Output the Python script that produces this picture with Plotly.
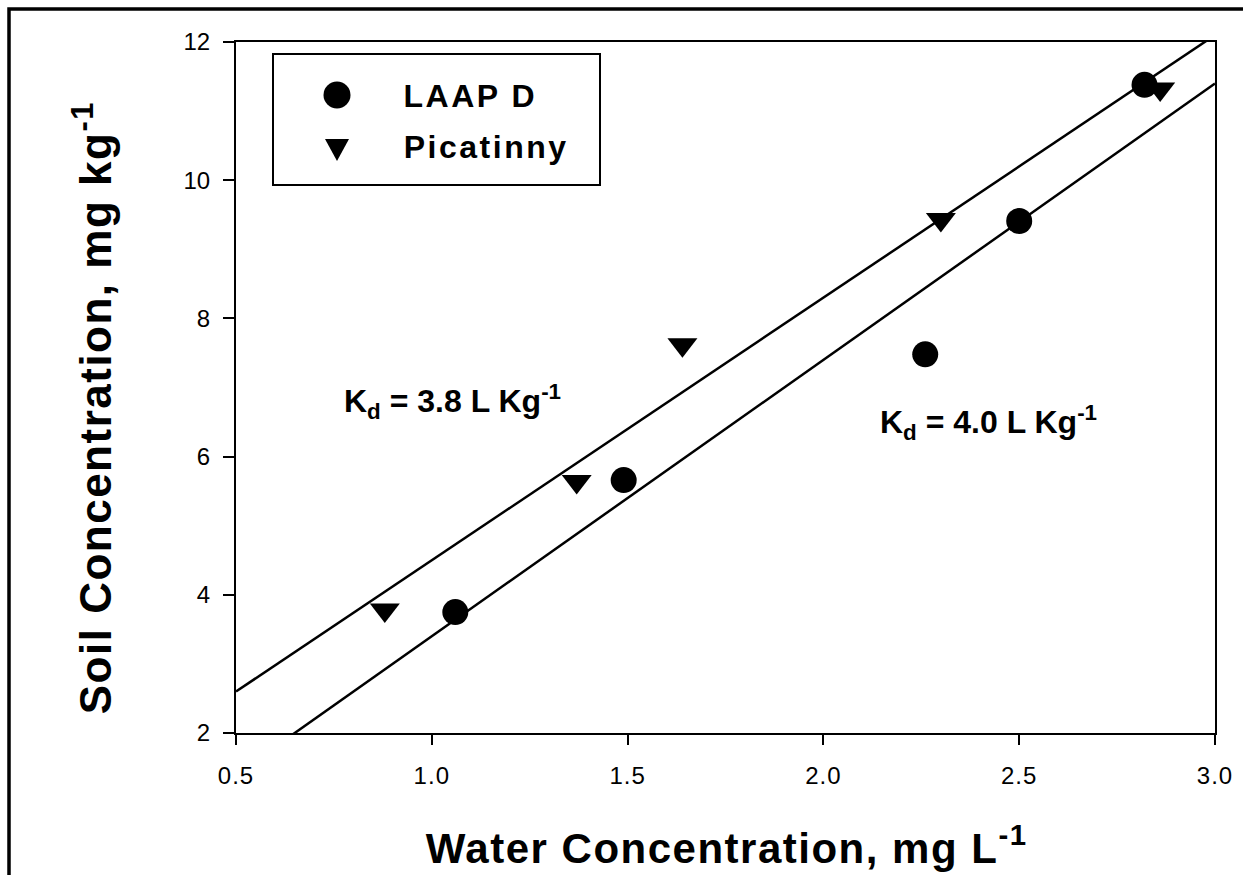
import plotly.graph_objects as go

# Sorption data: water vs soil concentration
laap_water = [1.06, 1.49, 2.26, 2.50, 2.82]
laap_soil = [3.75, 5.66, 7.48, 9.41, 11.38]

pica_water = [0.88, 1.37, 1.64, 2.30, 2.86]
pica_soil = [3.78, 5.64, 7.62, 9.43, 11.32]

# Linear fits (slope = Kd)
pica_kd, pica_icpt = 3.8, 0.70
laap_kd, laap_icpt = 4.0, -0.60

x_range = [0.5, 3.0]
y_range = [2, 12]
x_ticks = [0.5, 1.0, 1.5, 2.0, 2.5, 3.0]
y_ticks = [2, 4, 6, 8, 10, 12]

FONT = "Liberation Sans, Arial, sans-serif"
W, H = 1243, 875
ML, MR, MT, MB = 236, 28, 42, 142
PW, PH = W - ML - MR, H - MT - MB


def px(xp):
    return (xp - ML) / PW


def py(yp):
    return (H - MB - yp) / PH


fig = go.Figure()

fig.add_trace(go.Scatter(
    x=x_range, y=[pica_kd * v + pica_icpt for v in x_range],
    mode="lines", line=dict(color="black", width=2.5),
    showlegend=False, hoverinfo="skip"))
fig.add_trace(go.Scatter(
    x=x_range, y=[laap_kd * v + laap_icpt for v in x_range],
    mode="lines", line=dict(color="black", width=2.5),
    showlegend=False, hoverinfo="skip"))

fig.add_trace(go.Scatter(
    x=laap_water, y=laap_soil, mode="markers", name="LAAP D",
    marker=dict(symbol="circle", size=26, color="black"), showlegend=False))
fig.add_trace(go.Scatter(
    x=pica_water, y=pica_soil, mode="markers", name="Picatinny",
    marker=dict(symbol="triangle-down", size=26, color="black"), showlegend=False))

fig.update_xaxes(
    range=x_range, tickvals=x_ticks, ticktext=[f"{v:.1f}" for v in x_ticks],
    showline=True, linecolor="black", linewidth=2, mirror=True,
    ticks="outside", ticklen=10, tickwidth=2, tickcolor="black",
    ticklabelstandoff=10,
    showgrid=False, zeroline=False,
    tickfont=dict(family=FONT, size=24, color="black"))
fig.update_yaxes(
    range=y_range, tickvals=y_ticks,
    showline=True, linecolor="black", linewidth=2, mirror=True,
    ticks="outside", ticklen=11, tickwidth=2, tickcolor="black",
    ticklabelstandoff=8,
    showgrid=False, zeroline=False,
    tickfont=dict(family=FONT, size=24, color="black"))

annotations = [
    dict(text="<b>Water Concentration, mg L<sup>-1</sup></b>",
         xref="paper", yref="paper", x=px(726), y=py(845),
         xanchor="center", yanchor="middle", showarrow=False,
         font=dict(family=FONT, size=42, color="black")),
    dict(text="<b>Soil Concentration, mg kg<sup>-1</sup></b>",
         xref="paper", yref="paper", x=px(92), y=py(408), textangle=-90,
         xanchor="center", yanchor="middle", showarrow=False,
         font=dict(family=FONT, size=44, color="black")),
    dict(text="<b>K<sub>d</sub> = 3.8 L Kg<sup>-1</sup></b>",
         x=0.77, y=6.8, xanchor="left", yanchor="middle", showarrow=False,
         font=dict(family=FONT, size=32, color="black")),
    dict(text="<b>K<sub>d</sub> = 4.0 L Kg<sup>-1</sup></b>",
         x=2.14, y=6.5, xanchor="left", yanchor="middle", showarrow=False,
         font=dict(family=FONT, size=32, color="black")),
    # legend labels
    dict(text="<b>LAAP D</b>", xref="paper", yref="paper",
         x=px(470), y=py(96), xanchor="center", yanchor="middle", showarrow=False,
         font=dict(family=FONT, size=32, color="black")),
    dict(text="<b>Picatinny</b>", xref="paper", yref="paper",
         x=px(486), y=py(147), xanchor="center", yanchor="middle", showarrow=False,
         font=dict(family=FONT, size=32, color="black")),
]

shapes = [
    # outer frame
    dict(type="rect", xref="paper", yref="paper",
         x0=px(9), x1=px(1250), y0=py(880), y1=py(9),
         line=dict(color="black", width=3.5), layer="below"),
    # legend box
    dict(type="rect", xref="paper", yref="paper",
         x0=px(273), x1=px(600), y0=py(185), y1=py(54),
         line=dict(color="black", width=2), fillcolor="white", layer="below"),
    # legend symbols
    dict(type="circle", xref="paper", yref="paper",
         xsizemode="pixel", ysizemode="pixel",
         xanchor=px(337), yanchor=py(95),
         x0=-13.5, x1=13.5, y0=-13.5, y1=13.5,
         fillcolor="black", line=dict(color="black", width=0)),
    dict(type="path", xref="paper", yref="paper",
         xsizemode="pixel", ysizemode="pixel",
         xanchor=px(337), yanchor=py(147),
         path="M-12,8 L12,8 L0,-14 Z",
         fillcolor="black", line=dict(color="black", width=0)),
]

fig.update_layout(
    width=W, height=H,
    margin=dict(l=ML, r=MR, t=MT, b=MB),
    paper_bgcolor="white", plot_bgcolor="white",
    annotations=annotations,
    shapes=shapes,
    showlegend=False,
)

# Wider tracking on titles, legend labels and tick labels
spacing_css = (
    '.annotation[data-index="0"] .annotation-text{letter-spacing:1.5px}'
    '.annotation[data-index="1"] .annotation-text{letter-spacing:1.5px}'
    '.annotation[data-index="4"] .annotation-text{letter-spacing:2.5px}'
    '.annotation[data-index="5"] .annotation-text{letter-spacing:2.5px}'
    '.xtick text{letter-spacing:1px}'
)
post_js = (
    "var s=document.createElement('style');"
    f"s.textContent='{spacing_css}';"
    "document.head.appendChild(s);"
)

fig.write_html("out.html", post_script=post_js)
